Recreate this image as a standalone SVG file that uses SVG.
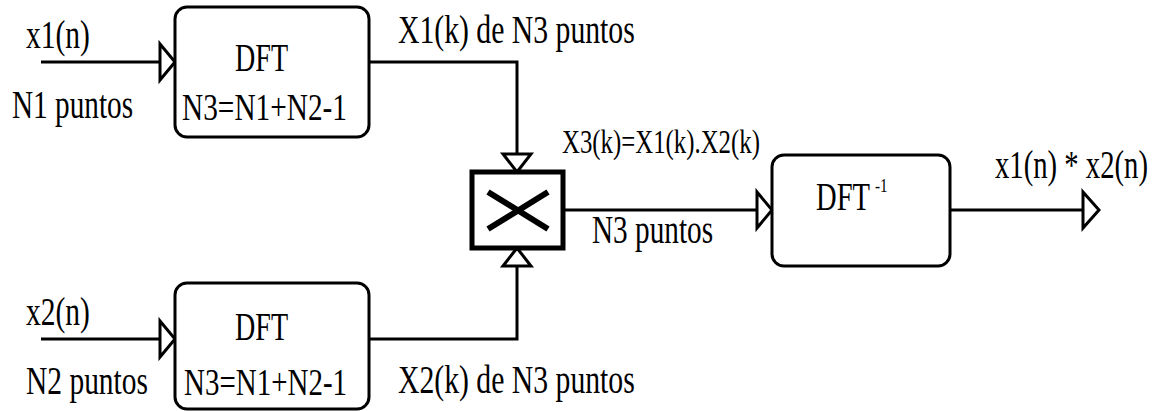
<svg xmlns="http://www.w3.org/2000/svg" width="1159" height="411" viewBox="0 0 1159 411">
<style>
.box{fill:#fff;stroke:#000;stroke-width:3}
.mul{fill:#fff;stroke:#000;stroke-width:5}
.ln{fill:none;stroke:#000;stroke-width:3}
.ah{fill:#fff;stroke:#000;stroke-width:3;stroke-linejoin:miter}
text{font-family:"Liberation Serif","DejaVu Serif","Times New Roman",serif;fill:#000}
.t{font-size:39px}
.s{font-size:33px}
.sup{font-size:19px}
</style>
<rect width="1159" height="411" fill="#fff"/>
<g id="connectors">
<line class="ln" x1="41" y1="62" x2="161" y2="62"/>
<polygon class="ah" points="160,44 175,62 160,80"/>
<line class="ln" x1="41" y1="339" x2="161" y2="339"/>
<polygon class="ah" points="160,321 175,339 160,357"/>
<polyline class="ln" points="369,62 517,62 517,155"/>
<polygon class="ah" points="503,154 531,154 517,172"/>
<polyline class="ln" points="369,339 517,339 517,266"/>
<polygon class="ah" points="503,266 531,266 517,248"/>
<line class="ln" x1="563" y1="210" x2="758" y2="210"/>
<polygon class="ah" points="757,192 772,210 757,228"/>
<line class="ln" x1="950" y1="210" x2="1084" y2="210"/>
<polygon class="ah" points="1083,192 1099,210 1083,228"/>
</g>
<g id="labels">
<text class="t" transform="translate(26,48) scale(0.757,1)">x1(n)</text>
<text class="t" transform="translate(12,118) scale(0.75,1)">N1 puntos</text>
<text class="t" transform="translate(26,325) scale(0.757,1)">x2(n)</text>
<text class="t" transform="translate(26,394) scale(0.756,1)">N2 puntos</text>
<text class="t" transform="translate(398,43) scale(0.762,1)">X1(k) de N3 puntos</text>
<text class="t" transform="translate(398,393) scale(0.762,1)">X2(k) de N3 puntos</text>
<text class="s" transform="translate(562,153) scale(0.752,1)">X3(k)=X1(k).X2(k)</text>
<text class="t" transform="translate(592,243) scale(0.75,1)">N3 puntos</text>
<text class="t" transform="translate(995,178) scale(0.736,1)">x1(n) * x2(n)</text>
</g>
<g id="dft1">
<rect class="box" x="175" y="7" width="194" height="130" rx="12"/>
<text class="t" transform="translate(235,71) scale(0.72,1)">DFT</text>
<text class="t" transform="translate(182,120) scale(0.752,1)">N3=N1+N2-1</text>
</g>
<g id="dft2">
<rect class="box" x="175" y="283" width="194" height="126" rx="12"/>
<text class="t" transform="translate(235,340) scale(0.72,1)">DFT</text>
<text class="t" transform="translate(184,395) scale(0.743,1)">N3=N1+N2-1</text>
</g>
<g id="mult">
<rect class="mul" x="472" y="172" width="91" height="76"/>
<line x1="488" y1="192" x2="548" y2="229" stroke="#000" stroke-width="6"/>
<line x1="548" y1="192" x2="488" y2="229" stroke="#000" stroke-width="6"/>
</g>
<g id="idft">
<rect class="box" x="772" y="155" width="178" height="111" rx="12"/>
<text class="t" transform="translate(816,210) scale(0.733,1)">DFT</text>
<text class="sup" transform="translate(875,192) scale(0.8,1)">-1</text>
</g>
</svg>
